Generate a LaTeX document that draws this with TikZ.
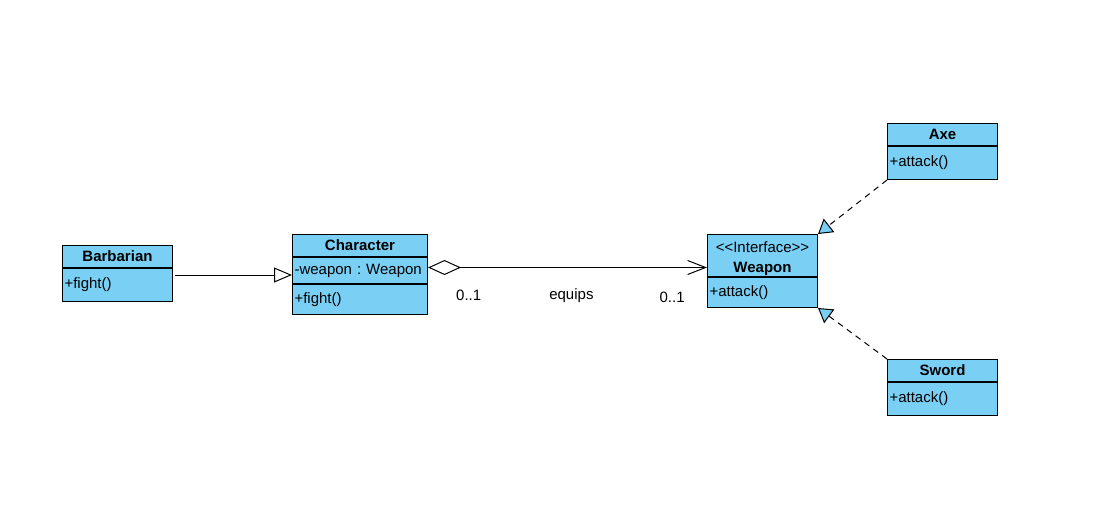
\documentclass[tikz,border=0pt]{standalone}
\usepackage{fontspec}
\setmainfont{Liberation Sans}
\usepackage{tikz}
\usetikzlibrary{positioning}
\usetikzlibrary{arrows.meta}
\definecolor{cls}{HTML}{7ACFF5}
\newcommand{\umlfont}{\fontsize{15}{18}\selectfont\frenchspacing}
\tikzset{%
  hd/.style = {rectangle,draw,fill=cls,font=\umlfont\bfseries,
        minimum width=110pt,minimum height=22pt,inner sep=0pt},
  cmp/.style = {rectangle,draw,fill=cls,font=\umlfont,minimum height=33pt,
        text width=106pt,inner sep=2pt,align=left},
  genarrow/.style = {-{Triangle[open,length=18pt,width=15pt]}},
  realarrow/.style = {-{Triangle[length=14pt,width=17pt,fill=cls]},
        dash pattern=on 6pt off 5pt},
  aggarrow/.style = {{Diamond[open,length=33pt,width=15pt]}-{Straight Barb[length=18pt,width=14pt]}},
  lbl/.style = {font=\umlfont,inner sep=0pt}
}
\begin{document}
\begin{tikzpicture}[x=1pt,y=-1pt,line width=1pt]
    \useasboundingbox (0,0) rectangle (1099,512);
    % classes
    \node[hd,anchor=north west] (barbarian) at (62,245) {Barbarian};
    \node[cmp,below=0pt of barbarian] (barbarianops) {+fight()};
    \node[hd,anchor=north west,minimum width=135pt] (character) at (292,234) {Character};
    \node[cmp,below=0pt of character,text width=131pt,minimum height=26pt] (characterattr) {-weapon : Weapon};
    \node[cmp,below=0pt of characterattr,text width=131pt,minimum height=30pt] (characterops) {+fight()};
    \node[hd,anchor=north west,minimum height=42pt,align=center] (weapon) at (707,234)
        {\rule{0pt}{17pt}{\normalfont <\kern0pt<Interface>\kern0pt>}\\[2pt]Weapon};
    \node[cmp,below=0pt of weapon,minimum height=30pt] (weaponops) {+attack()};
    \node[hd,anchor=north west] (axe) at (887,123) {Axe};
    \node[cmp,below=0pt of axe] (axeops) {+attack()};
    \node[hd,anchor=north west] (sword) at (887,359) {Sword};
    \node[cmp,below=0pt of sword] (swordops) {+attack()};
    % relations
    \coordinate (gen) at ([xshift=2pt,yshift=-7pt]barbarianops.north east);
    \draw[genarrow] (gen) -- (gen -| characterattr.west);
    \coordinate (agg) at ([yshift=3pt]characterattr.east);
    \draw[aggarrow] (agg) -- (agg -| weapon.west)
        node[lbl,pos=.146,yshift=-28pt] (from) {0..1}
        node[lbl,pos=.514,yshift=-28pt] (role) {equips}
        node[lbl,pos=.875,yshift=-30pt] (to) {0..1};
    \draw[realarrow] (axeops.south west) -- (weapon.north east);
    \draw[realarrow] (sword.north west) -- (weaponops.south east);
\end{tikzpicture}
\end{document}
